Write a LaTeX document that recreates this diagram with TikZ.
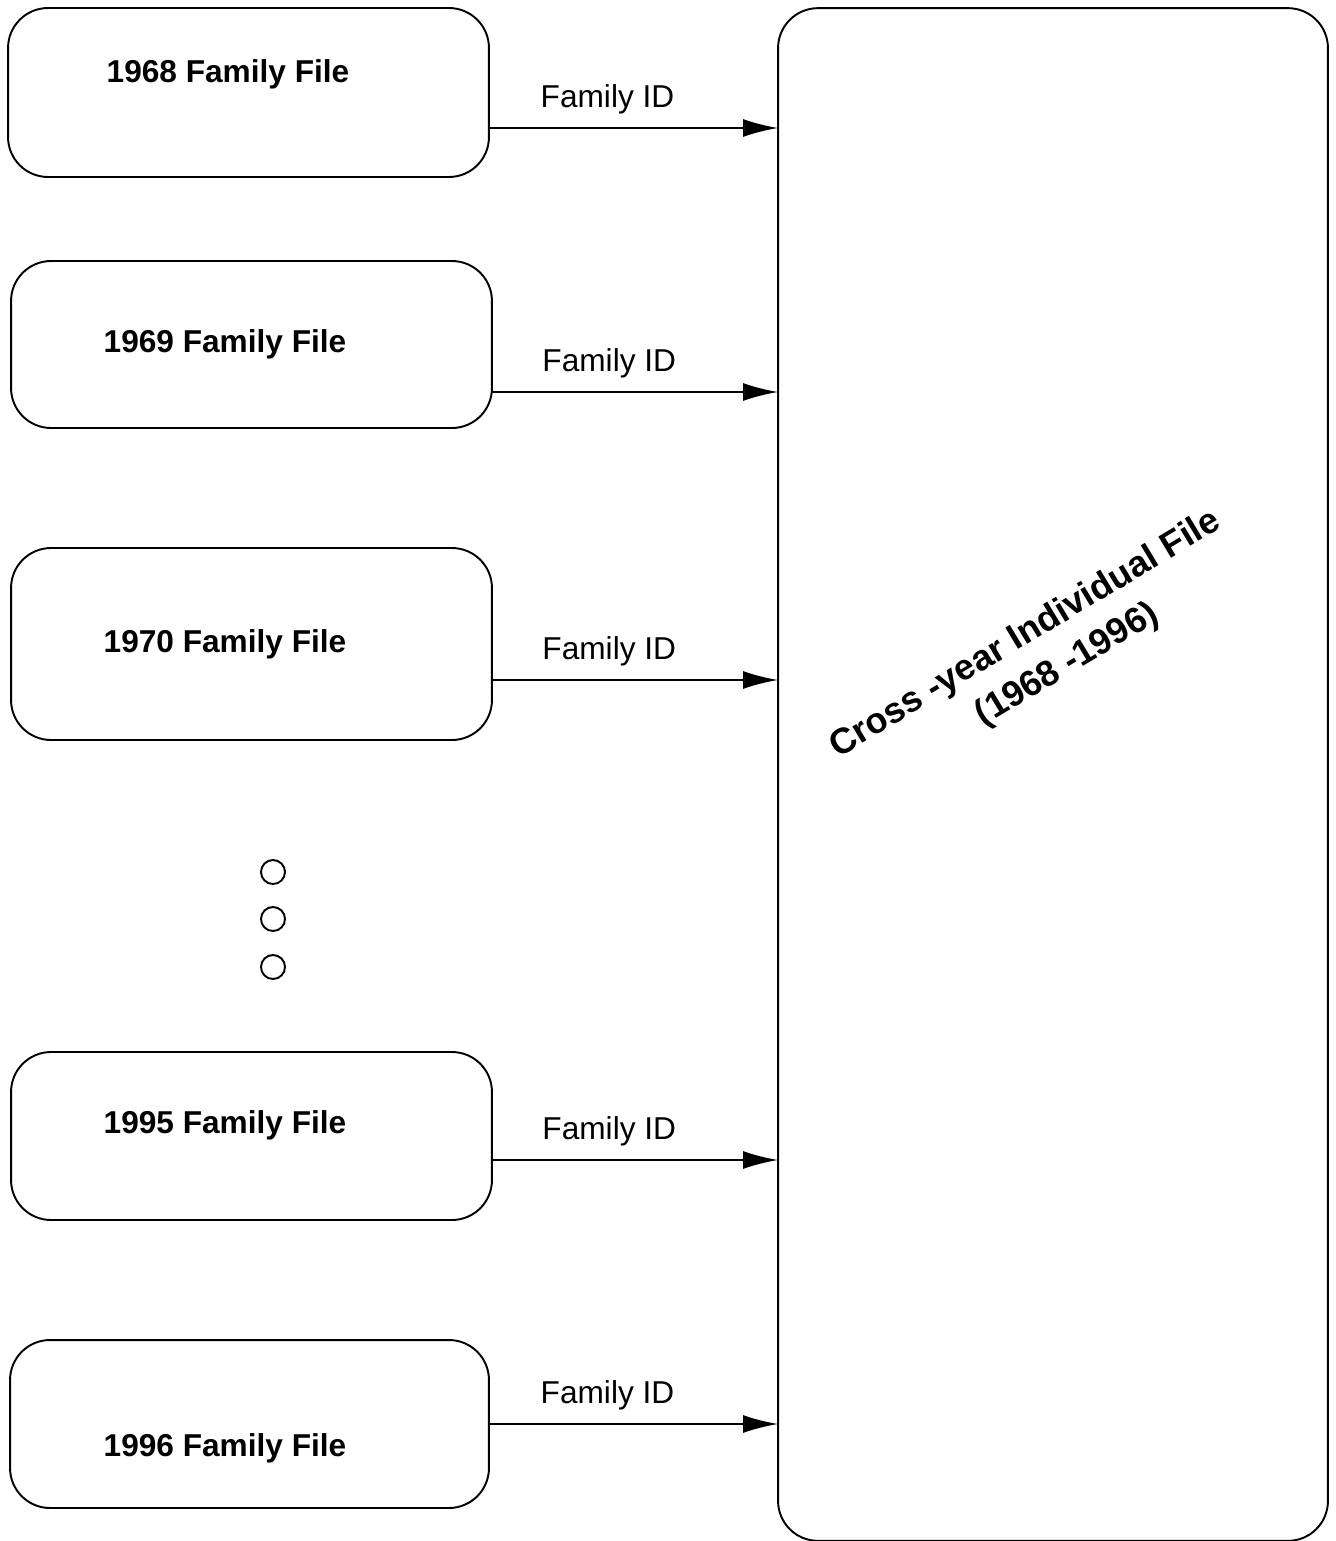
\documentclass[tikz,border=0pt]{standalone}
\usepackage{fontspec}
\setmainfont{Liberation Sans}
\usetikzlibrary{arrows.meta,positioning}

\begin{document}
\begin{tikzpicture}[x=0.02cm, y=-0.02cm, line width=1.1pt,
        every node/.style={font=\fontsize{18}{22}\selectfont},
        famfile/.style={draw, rounded corners=0.8cm, inner sep=0pt, outer sep=0pt, minimum width=9.62cm},
        famlabel/.style={anchor=base, font=\fontsize{18}{22}\selectfont\bfseries},
        idarrow/.style={-{Latex[length=0.7cm,width=0.36cm]}},
        idlabel/.style={pos=0.41, anchor=base, yshift=0.42cm},
        gapdot/.style={draw, circle, minimum size=0.48cm, inner sep=0pt}]
        \useasboundingbox (0,0) rectangle (1335,1541);
        % Family files
        \node[famfile, minimum height=3.38cm] (f1968) at (248.5,92.5) {};
        \node[famfile, minimum height=3.34cm] (f1969) at (251.5,344.5) {};
        \node[famfile, minimum height=3.84cm] (f1970) at (251.5,644) {};
        \node[famfile, minimum height=3.36cm] (f1995) at (251.5,1136) {};
        \node[famfile, minimum height=3.36cm, minimum width=9.58cm] (f1996) at (249.5,1424) {};
        \node[famlabel] (t1968) at (228,83) {1968 Family File};
        \node[famlabel] (t1969) at (225,352) {1969 Family File};
        \node[famlabel] (t1970) at (225,652) {1970 Family File};
        \node[famlabel] (t1995) at (225,1133) {1995 Family File};
        \node[famlabel] (t1996) at (225,1456) {1996 Family File};
        % Gap
        \node[gapdot] (g1) at (273,872) {};
        \node[gapdot] (g2) at (273,919) {};
        \node[gapdot] (g3) at (273,967) {};
        % Cross-year file
        \node[famfile, minimum width=11cm, minimum height=30.66cm] (cross) at (1053,774.5) {};
        \node[align=center, rotate=31, font=\fontsize{20.5}{27}\selectfont\bfseries] (crosslabel) at (1038,655)
            {Cross -year Individual File\\\hspace*{0.8cm}(1968 -1996)};
        % Links
        \draw[idarrow] (f1968.east |- 0,128) -- (cross.west |- 0,128) node[idlabel] {Family ID};
        \draw[idarrow] (f1969.east |- 0,392) -- (cross.west |- 0,392) node[idlabel] {Family ID};
        \draw[idarrow] (f1970.east |- 0,680) -- (cross.west |- 0,680) node[idlabel] {Family ID};
        \draw[idarrow] (f1995.east |- 0,1160) -- (cross.west |- 0,1160) node[idlabel] {Family ID};
        \draw[idarrow] (f1996.east |- 0,1424) -- (cross.west |- 0,1424) node[idlabel] {Family ID};
\end{tikzpicture}
\end{document}
